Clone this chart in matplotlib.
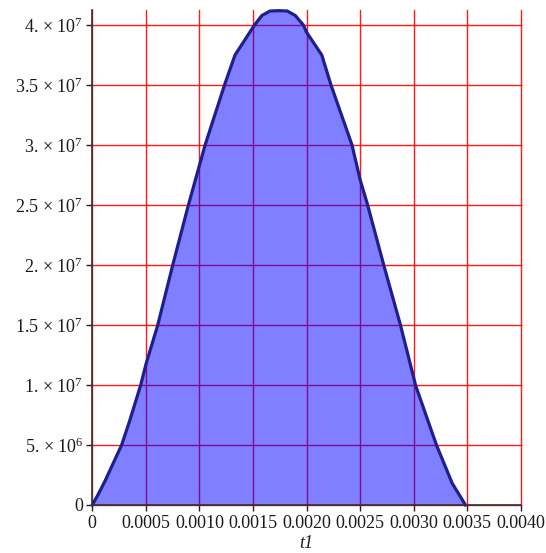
#!/usr/bin/env python3
"""
Filled curve of t1 (Maple-style plot with red grid)
"""

import matplotlib
matplotlib.use("Agg")
import matplotlib.pyplot as plt

# values
t1 = [0, 0.000056, 0.000119, 0.000274, 0.000352, 0.000452, 0.0005, 0.000611,
      0.000751, 0.000897, 0.001, 0.001053, 0.001234, 0.001332, 0.001514,
      0.001583, 0.00166, 0.00174, 0.00182, 0.001894, 0.00197, 0.002,
      0.002142, 0.002228, 0.002424, 0.0025, 0.00257, 0.00272, 0.002876,
      0.003, 0.003016, 0.003212, 0.003359, 0.003483]
y_vals = [0, 0.9e6, 2.0e6, 5e6, 7.1e6, 1e7, 1.17e7, 1.5e7,
          2e7, 2.5e7, 2.83e7, 3e7, 3.5e7, 3.75e7, 4e7,
          4.08e7, 4.117e7, 4.12e7, 4.117e7, 4.08e7, 4e7, 3.94e7,
          3.75e7, 3.5e7, 3e7, 2.71e7, 2.5e7, 2e7, 1.5e7,
          1.06e7, 1e7, 5e6, 1.81e6, 0]

x_ticks = [0, 0.0005, 0.0010, 0.0015, 0.0020, 0.0025, 0.0030, 0.0035, 0.0040]
x_tick_labels = ["0", "0.0005", "0.0010", "0.0015", "0.0020", "0.0025",
                 "0.0030", "0.0035", "0.0040"]
y_ticks = [0, 5e6, 1e7, 1.5e7, 2e7, 2.5e7, 3e7, 3.5e7, 4e7]
y_mant = ["0", "5.", "1.", "1.5", "2.", "2.5", "3.", "3.5", "4."]
y_exp = [None, 6, 7, 7, 7, 7, 7, 7, 7]

plt.rcParams['font.family'] = ['Liberation Serif', 'DejaVu Serif']
plt.rcParams['mathtext.fontset'] = 'custom'
plt.rcParams['mathtext.rm'] = 'Liberation Serif'
plt.rcParams['mathtext.it'] = 'Liberation Serif:italic'

fig = plt.figure(figsize=(5.46, 5.53), dpi=100)
ax = fig.add_axes([0.169, 0.0868, 0.785, 0.895])

ax.fill_between(t1, y_vals, color='blue', alpha=0.5, lw=0, zorder=2)
ax.plot(t1, y_vals, color='#1e1e8c', linewidth=2.3, zorder=3,
        solid_joinstyle='round', clip_on=False)

ax.set_xlim(0, 0.004)
ax.set_ylim(0, 4.125e7)

ax.set_xticks(x_ticks)
ax.set_xticklabels(x_tick_labels)
y_labels = []
for m, e in zip(y_mant, y_exp):
    if e is None:
        y_labels.append(m)
    else:
        y_labels.append(m + " \u00d7 10$^{%d}$" % e)
ax.set_yticks(y_ticks)
ax.set_yticklabels(y_labels)

ax.grid(True, color='red', linewidth=1.0, alpha=0.9, zorder=1)
ax.set_axisbelow(True)
# keep the grid line at the right edge (0.004) fully visible
for gl in ax.xaxis.get_gridlines() + ax.yaxis.get_gridlines():
    gl.set_clip_on(False)

for side in ['top', 'right']:
    ax.spines[side].set_visible(False)
for side in ['left', 'bottom']:
    ax.spines[side].set_color('#333333')
    ax.spines[side].set_linewidth(1.2)
    ax.spines[side].set_zorder(4)

ax.tick_params(axis='both', direction='out', length=4.5, width=1.0,
               color='#222222', labelsize=13, labelcolor='#1a1a1a')
ax.tick_params(axis='x', pad=3)
ax.tick_params(axis='y', pad=2)

ax.set_xlabel('t1', fontsize=13, style='italic', labelpad=2, color='#1a1a1a')

fig.savefig('out.png', dpi=100)
plt.close(fig)
